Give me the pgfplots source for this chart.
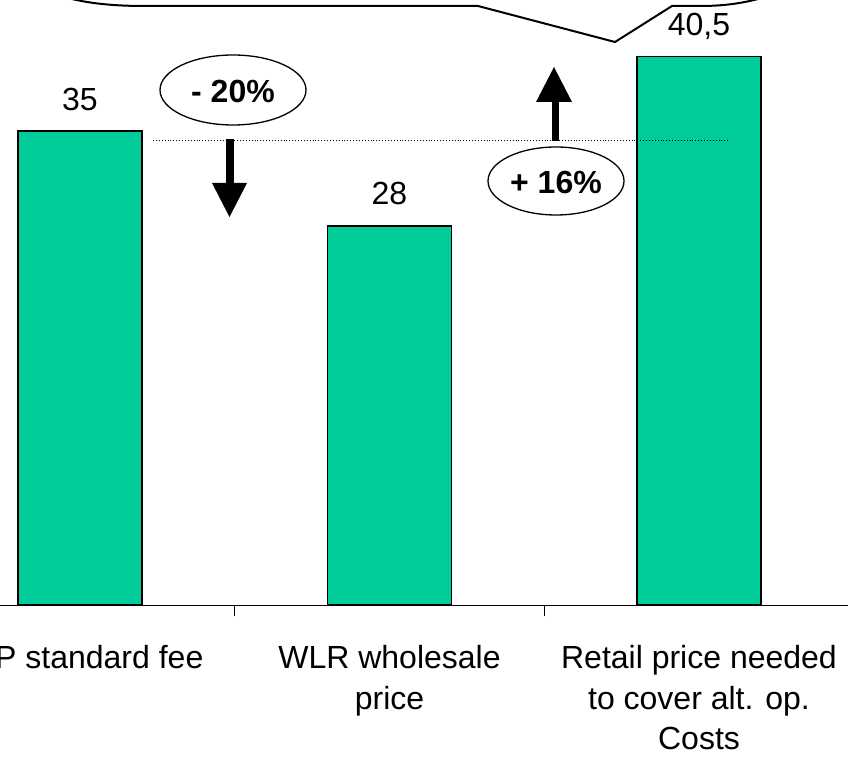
\documentclass[border=0pt]{standalone}
\usepackage{pgfplots}
\pgfplotsset{compat=1.18}
\usepackage{fontspec}
\setmainfont{Liberation Sans}
\definecolor{bargreen}{RGB}{0,204,153}
\begin{document}
\begin{tikzpicture}[x=1pt,y=1pt]
\useasboundingbox (0,0) rectangle (848,756);
\clip (0,0) rectangle (848,756);
\begin{axis}[
  at={(-74.75pt,151pt)}, anchor=south west,
  scale only axis, width=928.5pt, height=605pt,
  xmin=-0.5, xmax=2.5, ymin=0, ymax=44.68,
  axis x line=bottom, axis y line=none,
  axis line style={line width=1pt, -},
  xtick={0,1,2}, xticklabels={},
  extra x ticks={0.5,1.5}, extra x tick labels={},
  extra x tick style={major tick length=11pt, tick style={line width=1pt, black}},
  major tick length=0pt,
  clip=false,
  ybar, bar width=124pt,
  font=\fontsize{32}{44}\selectfont,
]
\addplot[fill=bargreen, draw=black, line width=1.5pt,
  nodes near coords, point meta=explicit symbolic,
  every node near coord/.style={anchor=base, inner sep=0pt, yshift=21pt, font=\fontsize{32}{44}\selectfont, text=black}]
  coordinates {(0,35) [35] (1,28) [28] (2,40.5) [{40,5}]};
\tikzset{lbl/.style={anchor=base, inner sep=0pt, font=\fontsize{32}{44}\selectfont}}
\node[lbl] at (axis cs:0,0) [yshift=-63pt] {ATP standard fee};
\node[lbl] at (axis cs:1,0) [yshift=-63pt] {WLR wholesale};
\node[lbl] at (axis cs:1,0) [yshift=-104pt] {price};
\node[lbl] at (axis cs:2,0) [yshift=-63pt] {Retail price needed};
\node[lbl] at (axis cs:2,0) [yshift=-104pt] {to cover alt. op.};
\node[lbl] at (axis cs:2,0) [yshift=-144pt] {Costs};
\end{axis}
\begin{scope}[shift={(0,756)}, y=-1pt]
  % dotted reference line
  \draw[line width=0.9pt, dotted] (153,140) -- (730,140);
  % down arrow
  \fill (226,139) rectangle (234,184);
  \fill (212,183) -- (247,183) -- (229.5,217) -- cycle;
  % up arrow
  \fill (552,141) rectangle (559,101);
  \fill (536,102) -- (572,102) -- (554,67) -- cycle;
  % ellipses
  \draw[line width=1.3pt, fill=white] (233,90) ellipse [x radius=73, y radius=35];
  \node[font=\fontsize{32}{37}\selectfont\bfseries] at (233,91) {- 20\%};
  \draw[line width=1.3pt, fill=white] (556,181) ellipse [x radius=68, y radius=34];
  \node[font=\fontsize{32}{37}\selectfont\bfseries] at (556,182) {+ 16\%};
  % callout
  \draw[line width=2pt] (60,-4) .. controls (85,3) and (110,6) .. (145,6) -- (478,6) -- (615,42) -- (672,6) -- (700,6) .. controls (725,6) and (745,3) .. (765,-3);
\end{scope}
\end{tikzpicture}
\end{document}
